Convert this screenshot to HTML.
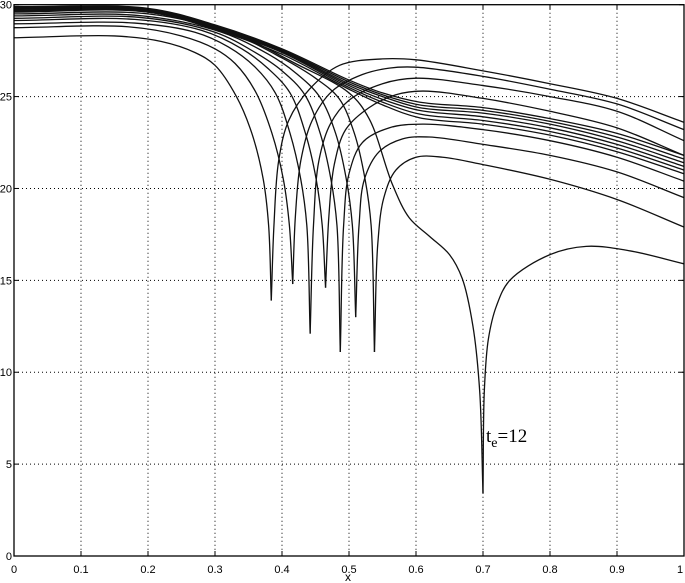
<!DOCTYPE html>
<html><head><meta charset="utf-8">
<style>
html,body{margin:0;padding:0;background:#fff;}
svg{display:block;font-family:"Liberation Sans",sans-serif;}
</style></head>
<body>
<svg id="chart" width="685" height="583" viewBox="0 0 685 583" xmlns="http://www.w3.org/2000/svg">
<g id="grid"></g>
<g id="curves"></g>
<g id="axes"></g>
<text x="348" y="581" font-size="12" text-anchor="middle">x</text>
<text x="486" y="442" font-family="Liberation Serif, serif" font-size="19">t<tspan font-size="14" dy="5">e</tspan><tspan dy="-5">=12</tspan></text>
</svg>
<script>
const xTicks=[0,0.1,0.2,0.3,0.4,0.5,0.6,0.7,0.8,0.9,1];
const xTickLabels=["0","0.1","0.2","0.3","0.4","0.5","0.6","0.7","0.8","0.9","1"];
const yTicks=[0,5,10,15,20,25,30];
const yTickLabels=["0","5","10","15","20","25","30"];

// dipping curves: left segment (to cusp) and right segment (from cusp)
const curveA_left=[[0,28.2],[0.15,28.3],[0.22,28.0],[0.27,27.4],[0.30,26.7],[0.332,25],[0.355,23],[0.372,20.5],[0.38,18],[0.384,13.9]];
const curveA_right=[[0.384,13.9],[0.388,18],[0.395,21.5],[0.41,23.7],[0.441,25.4],[0.486,26.7],[0.55,27.05],[0.6,27.0],[0.7,26.4],[0.8,25.7],[0.9,24.9],[1,23.6]];
const curveB_left=[[0,28.75],[0.17,28.8],[0.25,28.3],[0.3,27.6],[0.33,26.8],[0.36,25.3],[0.385,23],[0.402,20.5],[0.411,18],[0.416,14.8]];
const curveB_right=[[0.416,14.8],[0.42,18.5],[0.428,21.5],[0.445,23.7],[0.475,25.3],[0.52,26.2],[0.56,26.55],[0.6,26.6],[0.7,26.1],[0.8,25.4],[0.9,24.6],[1,23.2]];
const curveC_left=[[0,28.96],[0.18,29.0],[0.27,28.5],[0.32,27.7],[0.36,26.6],[0.39,25.2],[0.412,23],[0.428,20.5],[0.437,18],[0.442,12.1]];
const curveC_right=[[0.442,12.1],[0.447,18],[0.455,21.5],[0.472,23.5],[0.5,24.8],[0.55,25.7],[0.6,26.0],[0.7,25.6],[0.8,25.0],[0.9,24.2],[1,22.6]];
const curveD_left=[[0,29.14],[0.18,29.2],[0.28,28.6],[0.34,27.6],[0.38,26.5],[0.412,25.2],[0.435,23],[0.451,20.5],[0.46,18],[0.465,14.6]];
const curveD_right=[[0.465,14.6],[0.47,18.5],[0.478,21.3],[0.495,23.2],[0.53,24.4],[0.57,25.1],[0.61,25.3],[0.7,24.9],[0.8,24.2],[0.9,23.3],[1,21.8]];
const curveE_left=[[0,29.26],[0.19,29.3],[0.3,28.5],[0.36,27.4],[0.40,26.4],[0.434,25.1],[0.457,23],[0.473,20.5],[0.482,18],[0.487,11.1]];
const curveE_right=[[0.487,11.1],[0.492,18],[0.5,20.8],[0.52,22.5],[0.56,23.3],[0.61,23.5],[0.7,23.2],[0.8,22.6],[0.9,21.7],[1,20.4]];
const curveF_left=[[0,29.39],[0.19,29.4],[0.31,28.5],[0.38,27.3],[0.42,26.3],[0.456,25],[0.48,23],[0.496,20.5],[0.505,18],[0.51,13.0]];
const curveF_right=[[0.51,13.0],[0.515,18],[0.523,20.5],[0.545,22.0],[0.58,22.7],[0.62,22.8],[0.7,22.4],[0.8,21.8],[0.9,20.9],[1,19.5]];
const curveG_left=[[0,29.5],[0.2,29.5],[0.32,28.5],[0.4,27.1],[0.45,26.0],[0.485,24.9],[0.508,23],[0.524,20.5],[0.533,18],[0.538,11.1]];
const curveG_right=[[0.538,11.1],[0.543,17],[0.552,19.5],[0.57,21.0],[0.6,21.7],[0.64,21.7],[0.7,21.3],[0.8,20.5],[0.9,19.4],[1,17.9]];
const curveH_left=[[0,29.6],[0.2,29.6],[0.33,28.4],[0.42,26.8],[0.5,25.2],[0.53,23.8],[0.565,20.2],[0.59,18.4],[0.62,17.4],[0.65,16.4],[0.669,15.1],[0.685,12.5],[0.695,9],[0.70,3.4]];
const curveH_right=[[0.70,3.4],[0.702,9],[0.708,11.8],[0.72,13.6],[0.74,15.0],[0.8,16.4],[0.854,16.85],[0.92,16.6],[1,15.9]];

// non-dipping bundle curves
const curveK1=[[0,29.9],[0.2,29.8],[0.3,28.9],[0.4,27.6],[0.5,25.9],[0.55,25.2],[0.605,24.7],[0.7,24.4],[0.8,23.8],[0.9,23.0],[1,21.8]];
const curveK2=[[0,29.85],[0.2,29.76],[0.3,28.85],[0.4,27.55],[0.5,25.8],[0.55,25.1],[0.605,24.55],[0.7,24.25],[0.8,23.65],[0.9,22.8],[1,21.6]];
const curveK3=[[0,29.8],[0.2,29.72],[0.3,28.8],[0.4,27.5],[0.5,25.7],[0.55,25.0],[0.605,24.4],[0.7,24.1],[0.8,23.5],[0.9,22.6],[1,21.4]];
const curveK4=[[0,29.75],[0.2,29.68],[0.3,28.75],[0.4,27.45],[0.5,25.6],[0.55,24.85],[0.605,24.25],[0.7,23.9],[0.8,23.3],[0.9,22.4],[1,21.2]];
const curveK5=[[0,29.7],[0.2,29.64],[0.3,28.7],[0.4,27.4],[0.5,25.5],[0.55,24.7],[0.605,24.05],[0.7,23.7],[0.8,23.1],[0.9,22.2],[1,21.0]];
const curveK6=[[0,29.65],[0.2,29.6],[0.3,28.65],[0.4,27.3],[0.5,25.4],[0.55,24.55],[0.605,23.85],[0.7,23.5],[0.8,22.9],[0.9,22.0],[1,20.8]];

const X0=14,X1=684,Y0=556,Y1=4.7;
function sx(v){return X0+v*(X1-X0);}
function sy(v){return Y0-v/30*(Y0-Y1);}
const NS="http://www.w3.org/2000/svg";
function mk(tag,attrs,parent){const e=document.createElementNS(NS,tag);for(const k in attrs)e.setAttribute(k,attrs[k]);parent.appendChild(e);return e;}

const grid=document.getElementById('grid');
xTicks.forEach((t,i)=>{ if(i>0&&i<xTicks.length-1){
  const l=mk('line',{x1:sx(t),x2:sx(t),y1:Y1,y2:Y0,stroke:'#000','stroke-width':1,'stroke-dasharray':'1,3'},grid);
  
  
}});
yTicks.forEach((t,i)=>{ if(i>0&&i<yTicks.length-1){
  const l=mk('line',{x1:X0,x2:X1,y1:sy(t),y2:sy(t),stroke:'#000','stroke-width':1,'stroke-dasharray':'1,3'},grid);
  
  
}});

function pathD(pts){
  const p=pts.map(q=>[sx(q[0]),sy(q[1])]);
  const dist=(a,b)=>Math.pow(Math.hypot(b[0]-a[0],b[1]-a[1]),0.5);
  let d='M'+p[0][0].toFixed(2)+','+p[0][1].toFixed(2);
  for(let i=0;i<p.length-1;i++){
    const p1=p[i],p2=p[i+1];
    const p0=i>0?p[i-1]:[2*p1[0]-p2[0],2*p1[1]-p2[1]];
    const p3=i+2<p.length?p[i+2]:[2*p2[0]-p1[0],2*p2[1]-p1[1]];
    const d1=dist(p0,p1)||1e-6,d2=dist(p1,p2)||1e-6,d3=dist(p2,p3)||1e-6;
    const c1=[0,1].map(k=>(d1*d1*p2[k]-d2*d2*p0[k]+(2*d1*d1+3*d1*d2+d2*d2)*p1[k])/(3*d1*(d1+d2)));
    const c2=[0,1].map(k=>(d3*d3*p1[k]-d2*d2*p3[k]+(2*d3*d3+3*d3*d2+d2*d2)*p2[k])/(3*d3*(d3+d2)));
    d+='C'+c1[0].toFixed(2)+','+c1[1].toFixed(2)+' '+c2[0].toFixed(2)+','+c2[1].toFixed(2)+' '+p2[0].toFixed(2)+','+p2[1].toFixed(2);
  }
  return d;
}
const curves=document.getElementById('curves');
const series=[curveA_left,curveA_right,curveB_left,curveB_right,curveC_left,curveC_right,curveD_left,curveD_right,curveE_left,curveE_right,curveF_left,curveF_right,curveG_left,curveG_right,curveH_left,curveH_right,curveK1,curveK2,curveK3,curveK4,curveK5,curveK6];
series.forEach(s=>{
  const p=mk('path',{d:pathD(s),fill:'none',stroke:'#111','stroke-width':1.3},curves);
  
  
});

const axes=document.getElementById('axes');
const box=mk('rect',{x:X0,y:Y1,width:X1-X0,height:Y0-Y1,fill:'none',stroke:'#000','stroke-width':1.3},axes);


xTicks.forEach((t,i)=>{
  mk('line',{x1:sx(t),x2:sx(t),y1:Y0,y2:Y0-5,stroke:'#000'},axes);
  mk('line',{x1:sx(t),x2:sx(t),y1:Y1,y2:Y1+5,stroke:'#000'},axes);
  const tx=mk('text',{x:Math.min(sx(t),680),y:573,'font-size':11,'text-anchor':'middle'},axes);
  tx.textContent=xTickLabels[i];
  
  
});
yTicks.forEach((t,i)=>{
  mk('line',{x1:X0,x2:X0+5,y1:sy(t),y2:sy(t),stroke:'#000'},axes);
  mk('line',{x1:X1,x2:X1-5,y1:sy(t),y2:sy(t),stroke:'#000'},axes);
  const ty=mk('text',{x:12,y:Math.max(sy(t)+4,8),'font-size':11,'text-anchor':'end'},axes);
  ty.textContent=yTickLabels[i];
  
  
});
</script>
</body></html>
